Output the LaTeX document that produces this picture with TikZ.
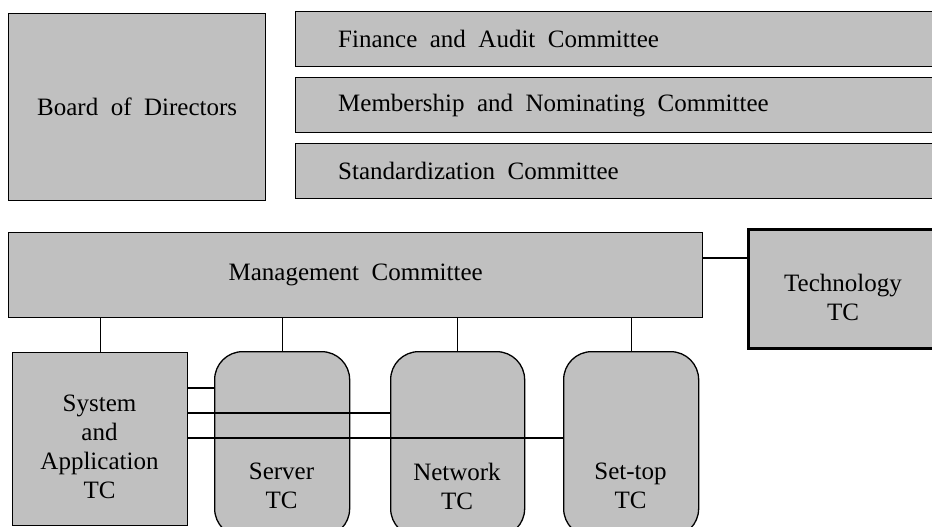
\documentclass[tikz,border=0pt]{standalone}
\usepackage{fontspec}
\setmainfont{Liberation Serif}
\newcommand\boxfont{\fontsize{25}{29}\selectfont\spaceskip=0.5em plus 0.1em minus 0.05em\relax}
\begin{document}
\definecolor{shade}{RGB}{192,192,192}
\begin{tikzpicture}[x=1pt,y=-1pt,
  box/.style={draw=black,fill=shade,line width=1.3pt,anchor=north west,inner sep=0pt},
  rbox/.style={box,rounded corners=28pt},
  cbox/.style={box,minimum width=660pt,minimum height=55pt},
  ctext/.style={anchor=west,font=\boxfont,inner sep=0pt},
  lbl/.style={align=center,font=\boxfont,inner sep=0pt},
  link/.style={draw=black,line width=1.2pt}]
\useasboundingbox (0,0) rectangle (932,527);
\clip (0,0) rectangle (932,527);

% governing bodies
\node[box,minimum width=257pt,minimum height=187pt,font=\boxfont] (bod) at (8,13) {Board of Directors};
\node[cbox] (fin) at (295,11) {};
\node[ctext] (fint) at ([xshift=43pt]fin.west) {Finance and Audit Committee};
\node[cbox] (mem) at (295,77) {};
\node[ctext] (memt) at ([xshift=43pt]mem.west) {Membership and Nominating Committee};
\node[cbox] (std) at (295,143) {};
\node[ctext] (stdt) at ([xshift=43pt]std.west) {Standardization Committee};

% management layer
\node[box,minimum width=694pt,minimum height=85pt,font=\boxfont] (mgmt) at (8,232) {Management Committee};
\node[box,line width=2.8pt,minimum width=194pt,minimum height=119pt] (tech) at (747,228) {};
\node[lbl] (techt) at (843,297) {Technology\\TC};

% technical committees
\node[box,minimum width=175pt,minimum height=173pt] (sys) at (12,352) {};
\node[lbl] (syst) at (99.5,447) {System\\and\\Application\\TC};
\node[rbox,minimum width=135pt,minimum height=185pt] (srv) at (214,351) {};
\node[lbl] (srvt) at (281.5,486) {Server\\TC};
\node[rbox,minimum width=134pt,minimum height=185pt] (net) at (390,351) {};
\node[lbl] (nett) at (457,486) {Network\\TC};
\node[rbox,minimum width=135pt,minimum height=185pt] (stb) at (563,351) {};
\node[lbl] (stbt) at (630.5,486) {Set-top\\TC};

% connectors
\draw[link] ([yshift=-26pt]mgmt.north east) -- ([yshift=-26pt]mgmt.north east -| tech.west);
\draw[link] (sys.north) -- (sys.north |- mgmt.south);
\draw[link] (srv.north) -- (srv.north |- mgmt.south);
\draw[link] (net.north) -- (net.north |- mgmt.south);
\draw[link] (stb.north) -- (stb.north |- mgmt.south);
\draw[link] ([yshift=-36pt]sys.north east) -- ([yshift=-36pt]sys.north east -| srv.west);
\draw[link] ([yshift=-61pt]sys.north east) -- ([yshift=-61pt]sys.north east -| net.west);
\draw[link] ([yshift=-86pt]sys.north east) -- ([yshift=-86pt]sys.north east -| stb.west);
\end{tikzpicture}
\end{document}
